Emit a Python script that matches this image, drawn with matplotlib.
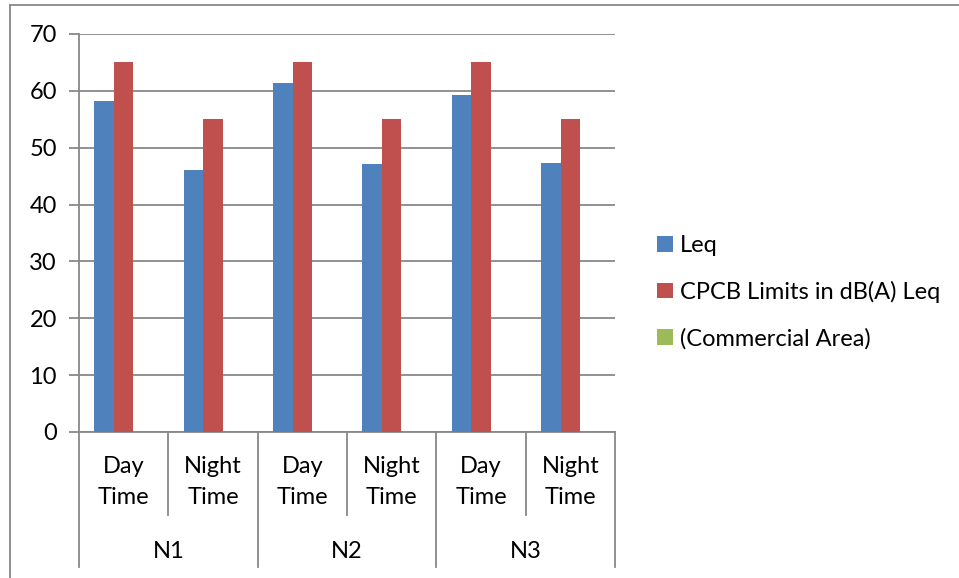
import matplotlib.pyplot as plt
from matplotlib.lines import Line2D
from matplotlib.patches import Patch
import matplotlib.transforms as mtransforms
import numpy as np

plt.rcParams['font.family'] = ['Lato', 'DejaVu Sans']

sub_labels = ['Day\nTime', 'Night\nTime'] * 3
group_labels = ['N1', 'N2', 'N3']
leq = [58.2, 46.1, 61.3, 47.2, 59.3, 47.3]
cpcb = [65, 55, 65, 55, 65, 55]
commercial = [0, 0, 0, 0, 0, 0]
series_names = ['Leq', 'CPCB Limits in dB(A) Leq', '(Commercial Area)']
colors = ['#4F81BD', '#C0504D', '#9BBB59']
grid_col = '#888888'
fs = 17

W, H = 959, 578
fig = plt.figure(figsize=(W / 100, H / 100), dpi=100)
ax = fig.add_axes([79 / W, (H - 432) / H, (615 - 79) / W, (432 - 34) / H])

x = np.arange(len(sub_labels))
w = 0.218
for i, vals in enumerate([leq, cpcb, commercial]):
    ax.bar(x + (i - 1) * w, vals, w, color=colors[i], edgecolor='none', zorder=3)

ax.set_xlim(-0.5, 5.5)
ax.set_ylim(0, 70)
ax.set_yticks(range(0, 71, 10))
ax.yaxis.grid(True, color=grid_col, linewidth=1.3, zorder=0)
ax.tick_params(axis='y', length=7, width=1.3, color=grid_col, labelsize=fs, pad=9)
ax.tick_params(axis='x', bottom=False, labelbottom=False)
for s in ['top', 'right']:
    ax.spines[s].set_visible(False)
for s in ['left', 'bottom']:
    ax.spines[s].set_color(grid_col)
    ax.spines[s].set_linewidth(1.3)

# multi level category axis
trans = mtransforms.blended_transform_factory(ax.transData, ax.transAxes)
ph = 432 - 34
for b in np.arange(-0.5, 6, 1.0):
    if b in (-0.5, 1.5, 3.5, 5.5):
        y_end = -(567 - 432) / ph
    else:
        y_end = -(515 - 432) / ph
    ax.add_line(Line2D([b, b], [0, y_end], transform=trans, color=grid_col,
                       linewidth=1.3, clip_on=False))
for xi, lab in zip(x, sub_labels):
    ax.text(xi, -(482 - 432) / ph, lab, transform=trans, ha='center', va='center',
            fontsize=fs, linespacing=1.55)
for gi, lab in enumerate(group_labels):
    ax.text(gi * 2 + 0.5, -(551 - 432) / ph, lab, transform=trans, ha='center',
            va='center', fontsize=fs)

handles = [Patch(facecolor=c, edgecolor='none') for c in colors]
fig.legend(handles, series_names, loc='center left', bbox_to_anchor=(657 / W, 1 - 292 / H),
           frameon=False, fontsize=fs, handlelength=0.66, handleheight=0.66,
           handletextpad=0.3, labelspacing=1.05, borderpad=0, borderaxespad=0)

# outer chart frame
fig.add_artist(Line2D([10 / W, 1], [1 - 5 / H, 1 - 5 / H], color=grid_col, linewidth=1.3))
fig.add_artist(Line2D([10 / W, 10 / W], [0, 1 - 5 / H], color=grid_col, linewidth=1.3))

fig.savefig('out.png', dpi=100)
